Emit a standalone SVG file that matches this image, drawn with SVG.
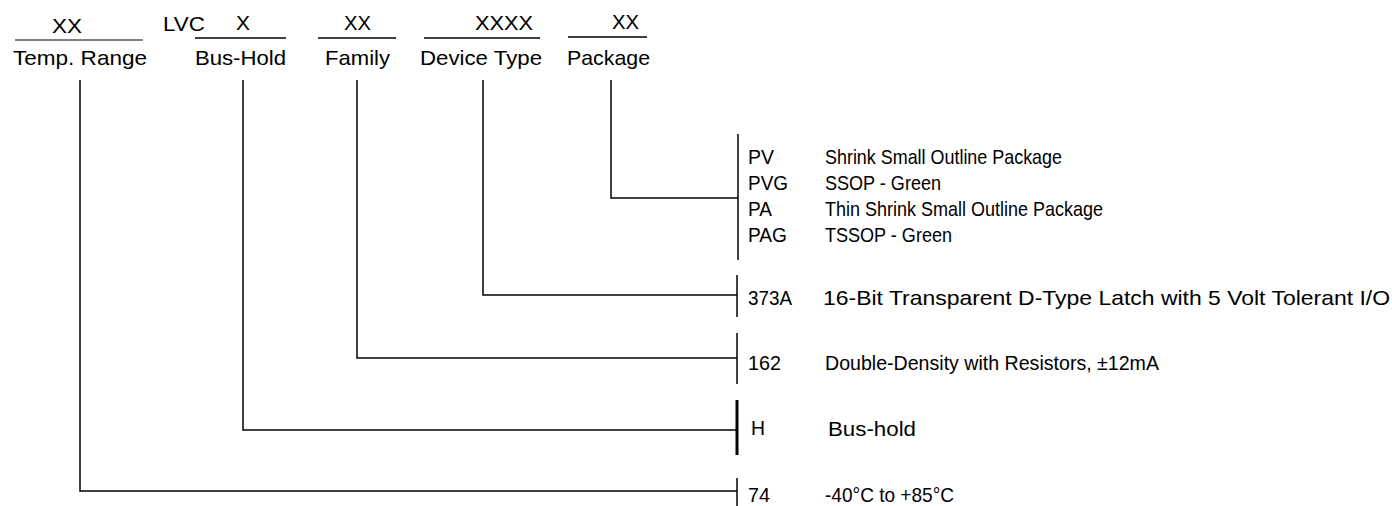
<svg xmlns="http://www.w3.org/2000/svg" width="1392" height="506" viewBox="0 0 1392 506">
<style>
text{font-family:"Liberation Sans",Arial,sans-serif;fill:#000;font-size:21px}
.ln{stroke:#000;stroke-width:1.5;fill:none}
.br{stroke:#000;stroke-width:1.5}
</style>
<rect width="1392" height="506" fill="#fff"/>
<g id="temp-range">
<text x="52" y="33" textLength="30" lengthAdjust="spacingAndGlyphs">XX</text>
<line x1="15" y1="40" x2="143" y2="40" stroke="#808080" stroke-width="2"/>
<text x="13" y="65" textLength="134" lengthAdjust="spacingAndGlyphs">Temp. Range</text>
</g>
<g id="lvc">
<text x="163" y="31" textLength="42" lengthAdjust="spacingAndGlyphs">LVC</text>
</g>
<g id="bus-hold">
<text x="236" y="30" textLength="14" lengthAdjust="spacingAndGlyphs">X</text>
<line class="ln" x1="195" y1="38" x2="286" y2="38"/>
<text x="195" y="65" textLength="91" lengthAdjust="spacingAndGlyphs">Bus-Hold</text>
</g>
<g id="family">
<text x="344" y="30" textLength="27" lengthAdjust="spacingAndGlyphs">XX</text>
<line class="ln" x1="318" y1="38" x2="396" y2="38"/>
<text x="325" y="65" textLength="65" lengthAdjust="spacingAndGlyphs">Family</text>
</g>
<g id="device-type">
<text x="475" y="30" textLength="58" lengthAdjust="spacingAndGlyphs">XXXX</text>
<line class="ln" x1="424" y1="38" x2="540" y2="38"/>
<text x="420" y="65" textLength="122" lengthAdjust="spacingAndGlyphs">Device Type</text>
</g>
<g id="package">
<text x="612" y="29" textLength="27" lengthAdjust="spacingAndGlyphs">XX</text>
<line class="ln" x1="568" y1="37" x2="647" y2="37"/>
<text x="567" y="65" textLength="83" lengthAdjust="spacingAndGlyphs">Package</text>
</g>
<g id="connectors">
<path class="ln" d="M611,80 V198 H738"/>
<path class="ln" d="M483,80 V295 H737"/>
<path class="ln" d="M357,80 V358 H737"/>
<path class="ln" d="M243,80 V430 H737"/>
<path class="ln" d="M80,80 V491 H737"/>
</g>
<g id="package-options">
<line class="br" x1="738" y1="134" x2="738" y2="260"/>
<text x="748" y="164" textLength="26" lengthAdjust="spacingAndGlyphs">PV</text><text x="825" y="164" textLength="237" lengthAdjust="spacingAndGlyphs">Shrink Small Outline Package</text>
<text x="748" y="190" textLength="40" lengthAdjust="spacingAndGlyphs">PVG</text><text x="825" y="190" textLength="116" lengthAdjust="spacingAndGlyphs">SSOP - Green</text>
<text x="748" y="216" textLength="24" lengthAdjust="spacingAndGlyphs">PA</text><text x="825" y="216" textLength="278" lengthAdjust="spacingAndGlyphs">Thin Shrink Small Outline Package</text>
<text x="748" y="242" textLength="39" lengthAdjust="spacingAndGlyphs">PAG</text><text x="825" y="242" textLength="127" lengthAdjust="spacingAndGlyphs">TSSOP - Green</text>
</g>
<g id="device-options">
<line class="br" x1="737" y1="275" x2="737" y2="317"/>
<text x="748" y="305" textLength="44" lengthAdjust="spacingAndGlyphs">373A</text><text x="823" y="305" textLength="567" lengthAdjust="spacingAndGlyphs">16-Bit Transparent D-Type Latch with 5 Volt Tolerant I/O</text>
</g>
<g id="family-options">
<line class="br" x1="737" y1="333" x2="737" y2="384"/>
<text x="748" y="370" textLength="33" lengthAdjust="spacingAndGlyphs">162</text><text x="825" y="370" textLength="334" lengthAdjust="spacingAndGlyphs">Double-Density with Resistors, ±12mA</text>
</g>
<g id="bushold-options">
<line x1="737" y1="400" x2="737" y2="455" stroke="#000" stroke-width="3"/>
<text x="751" y="435" textLength="14" lengthAdjust="spacingAndGlyphs">H</text><text x="828" y="436" textLength="88" lengthAdjust="spacingAndGlyphs">Bus-hold</text>
</g>
<g id="temp-options">
<line class="br" x1="737" y1="478" x2="737" y2="506"/>
<text x="748" y="502" textLength="22" lengthAdjust="spacingAndGlyphs">74</text><text x="825" y="502" textLength="129" lengthAdjust="spacingAndGlyphs">-40°C to +85°C</text>
</g>
</svg>
